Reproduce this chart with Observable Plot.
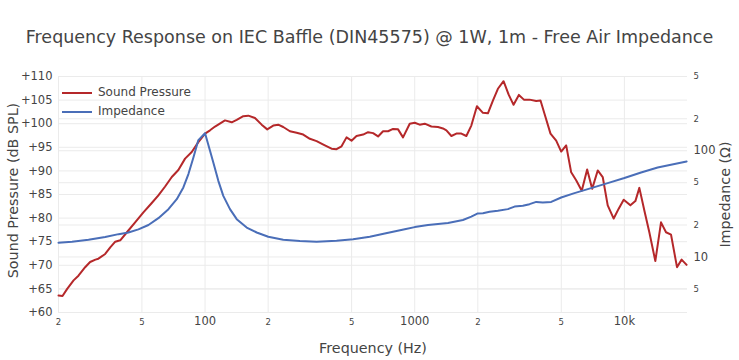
<!DOCTYPE html>
<html>
<head>
<meta charset="utf-8">
<script src="https://cdn.jsdelivr.net/npm/d3@7"></script>
<script src="https://cdn.jsdelivr.net/npm/@observablehq/plot@0.6"></script>
<style>
  html, body { margin: 0; padding: 0; background: #fff; }
  #wrap { position: relative; width: 739px; height: 360px; font-family: "DejaVu Sans", Verdana, sans-serif; color: #444; }
  #title { position: absolute; left: 0; top: 26px; width: 739px; text-align: center; font-size: 17.5px; line-height: 22px; white-space: nowrap; }
  #legend { position: absolute; left: 62px; top: 83px; font-size: 12px; line-height: 19px; }
  .item { display: flex; align-items: center; height: 19px; }
  .sw { width: 30px; height: 0; border-top: 2px solid; margin-right: 6px; }
  #chart svg { display: block; }
</style>
</head>
<body>
<div id="wrap">
  <div id="chart"></div>
  <div id="title">Frequency Response on IEC Baffle (DIN45575) @ 1W, 1m - Free Air Impedance</div>
  <div id="legend">
    <div class="item"><span class="sw" style="border-color:#b5282a"></span>Sound Pressure</div>
    <div class="item"><span class="sw" style="border-color:#4a6eb8"></span>Impedance</div>
  </div>
</div>
<script>
// ---- Data ----
const splFreq = [20.0, 20.9, 22.0, 23.6, 24.9, 26.8, 28.3, 30.0, 31.0, 33.4, 35.3, 37.3, 39.4, 42.4, 46.4, 50.8, 55.7, 59.9, 64.5, 69.4, 74.6, 80.3, 86.4, 92.9, 100, 105.6, 111.6, 124.5, 134.0, 141.6, 152.2, 160.8, 173.0, 186.2, 198.0, 211.5, 223.4, 236.0, 254.0, 273.4, 293.9, 316.2, 340.4, 372.8, 401.2, 423.9, 447.7, 472.9, 499.6, 527.7, 567.3, 599.3, 633, 668.7, 706.3, 746.2, 788.3, 832.7, 879.6, 946.7, 1000, 1056, 1116, 1201, 1291, 1364, 1416, 1496, 1580, 1669, 1763, 1862, 1980, 2115, 2234, 2360, 2493, 2653, 2803, 2961, 3139, 3316, 3529, 3797, 3981, 4159, 4442, 4729, 4996, 5277, 5575, 5888, 6262, 6644, 7019, 7462, 7883, 8327, 8892, 9396, 9924, 10681, 11283, 11786, 12451, 13152, 14047, 14953, 15795, 16690, 17822, 18749, 19806];
const splDb = [63.6, 63.5, 65.0, 66.8, 67.8, 69.6, 70.7, 71.2, 71.4, 72.4, 73.8, 75.0, 75.3, 77.0, 79.1, 81.2, 83.2, 84.8, 86.7, 88.7, 90.2, 92.6, 94.0, 96.1, 97.9, 98.6, 99.4, 100.7, 100.3, 100.8, 101.6, 101.7, 101.2, 99.8, 98.8, 99.6, 99.8, 99.3, 98.4, 98.1, 97.7, 96.8, 96.3, 95.4, 94.7, 94.6, 95.2, 97.1, 96.4, 97.4, 97.7, 98.2, 98.0, 97.3, 98.4, 98.4, 98.9, 98.8, 97.1, 100.0, 100.2, 99.8, 100.0, 99.4, 99.3, 99.0, 98.6, 97.4, 97.9, 97.9, 97.4, 99.6, 103.7, 102.3, 102.2, 104.9, 107.4, 109.0, 106.2, 104.0, 106.1, 105.1, 105.1, 104.8, 104.9, 102.1, 97.9, 96.4, 94.1, 95.4, 89.7, 88.0, 85.8, 90.3, 86.2, 90.1, 88.7, 82.7, 79.9, 82.0, 83.9, 82.7, 83.6, 86.4, 81.6, 77.0, 70.9, 79.1, 77.0, 76.5, 69.6, 71.2, 70.1];
const impFreq = [20.0, 23.2, 27.8, 33.4, 38.7, 43.1, 48.1, 53.7, 59.9, 66.9, 73.3, 78.8, 83.3, 88.0, 92.9, 100, 105.6, 109.5, 115.7, 122.2, 131.5, 141.6, 158.0, 176.3, 200.2, 236.0, 283.4, 340.4, 423.9, 508.4, 610.5, 719.7, 896.3, 1000, 1157, 1441, 1698, 1862, 1989, 2115, 2276, 2493, 2781, 2994, 3279, 3529, 3797, 4083, 4477, 4996, 5780, 6939, 8327, 10000, 12010, 14410, 19806];
const impOhm = [13.6, 13.9, 14.5, 15.4, 16.4, 17.0, 18.2, 20.0, 23.2, 28.2, 35.0, 45.1, 60.3, 86.5, 126, 146, 100, 77.6, 52.1, 37.6, 28.2, 22.7, 18.9, 17.0, 15.5, 14.5, 14.1, 13.9, 14.2, 14.7, 15.5, 16.6, 18.2, 19.1, 20.0, 20.9, 22.3, 24.0, 25.6, 25.8, 26.6, 27.2, 28.2, 29.8, 30.3, 31.4, 33.0, 32.5, 33.0, 36.3, 39.9, 44.5, 49.6, 55.3, 62.4, 69.6, 79.3];

const xTicks = [20, 50, 100, 200, 500, 1000, 2000, 5000, 10000];
const xTickLabels = ["2", "5", "100", "2", "5", "1000", "2", "5", "10k"];
const yTicks = [60, 65, 70, 75, 80, 85, 90, 95, 100, 105, 110];
const yTickLabels = ["+60", "+65", "+70", "+75", "+80", "+85", "+90", "+95", "+100", "+105", "+110"];
const zTicks = [5, 10, 20, 50, 100, 200, 500];
const zTickLabels = ["5", "10", "2", "5", "100", "2", "5"];

// Right (impedance) log axis range, overlaid on the left dB axis
const Z_MIN = 3, Z_MAX = 500, DB_MIN = 60, DB_MAX = 110;
const zToY = z => DB_MIN + (DB_MAX - DB_MIN) * (Math.log10(z) - Math.log10(Z_MIN)) / (Math.log10(Z_MAX) - Math.log10(Z_MIN));

const spl = splFreq.map((f, i) => ({f, v: splDb[i]}));
const imp = impFreq.map((f, i) => ({f, v: zToY(impOhm[i])}));
const major = s => s.length > 1;

const RED = "#b5282a", BLUE = "#4a6eb8", GRID = "#ebebeb";

const chart = Plot.plot({
  width: 739,
  height: 360,
  marginLeft: 58,
  marginRight: 52,
  marginTop: 76,
  marginBottom: 48,
  style: {fontFamily: "'DejaVu Sans', Verdana, sans-serif", color: "#444", background: "#fff"},
  x: {type: "log", domain: [20, 20000], axis: null},
  y: {type: "linear", domain: [DB_MIN, DB_MAX], axis: null},
  marks: [
    Plot.gridX(xTicks, {stroke: GRID, strokeOpacity: 1}),
    Plot.gridY(yTicks, {stroke: GRID, strokeOpacity: 1}),
    Plot.gridY(zTicks.map(zToY), {stroke: GRID, strokeOpacity: 1}),
    // left axis labels
    Plot.text(yTicks, {y: d => d, text: (d, i) => yTickLabels[i], frameAnchor: "left", dx: -6, textAnchor: "end", fontSize: 11.5, fill: "#444"}),
    // right axis labels
    Plot.text(zTicks, {y: d => zToY(d), text: (d, i) => zTickLabels[i], frameAnchor: "right", dx: 6, textAnchor: "start", fontSize: (d, i) => major(zTickLabels[i]) ? 11.5 : 8.5, fill: "#444"}),
    // bottom axis labels
    Plot.text(xTicks, {x: d => d, text: (d, i) => xTickLabels[i], frameAnchor: "bottom", dy: 12, fontSize: (d, i) => major(xTickLabels[i]) ? 11.5 : 8.5, fill: "#444"}),
    // axis titles
    Plot.text(["Sound Pressure (dB SPL)"], {frameAnchor: "left", dx: -45, dy: -4, rotate: -90, textAnchor: "middle", fontSize: 14.3, fill: "#444"}),
    Plot.text(["Impedance (Ω)"], {frameAnchor: "right", dx: 38, dy: 0, rotate: -90, textAnchor: "middle", fontSize: 14.3, fill: "#444"}),
    Plot.text(["Frequency (Hz)"], {frameAnchor: "bottom", dy: 40, dx: 0, textAnchor: "middle", fontSize: 14.3, fill: "#444"}),
    // series
    Plot.line(spl, {x: "f", y: "v", stroke: RED, strokeWidth: 2}),
    Plot.line(imp, {x: "f", y: "v", stroke: BLUE, strokeWidth: 2})
  ]
});
document.getElementById("chart").appendChild(chart);
</script>
</body>
</html>
